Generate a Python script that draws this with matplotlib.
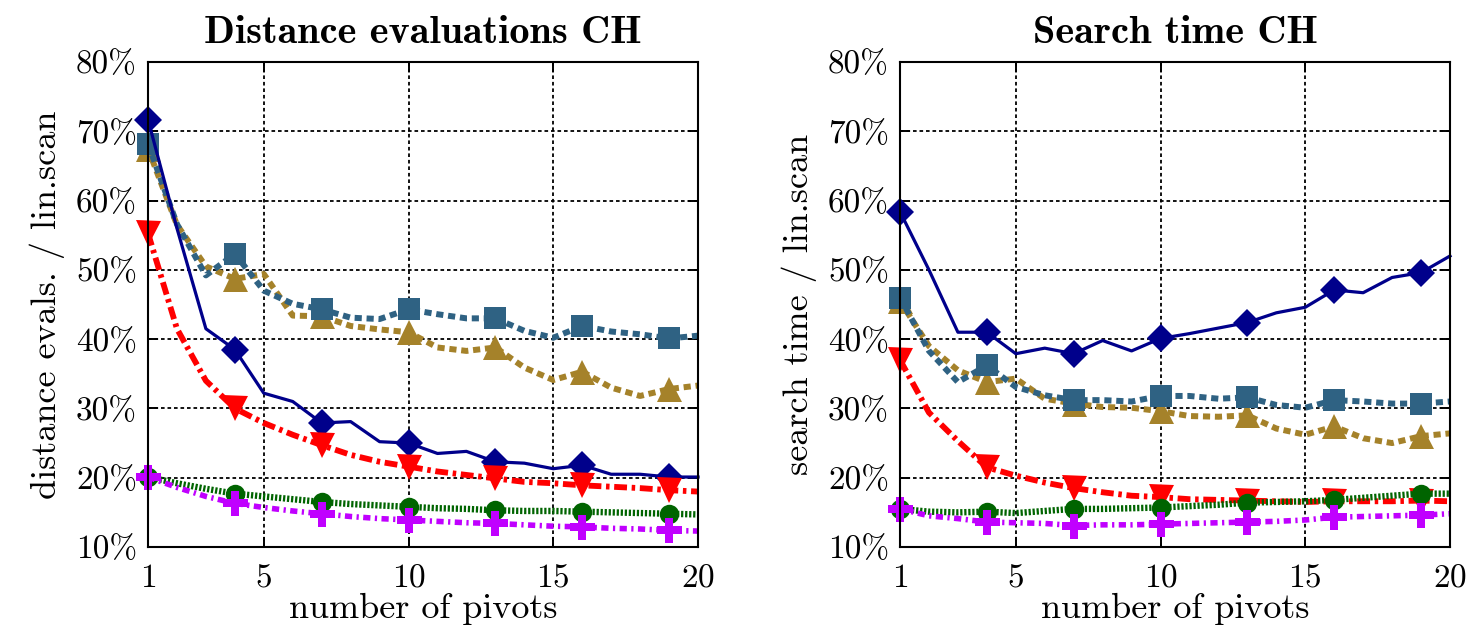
import matplotlib
matplotlib.use('Agg')
import matplotlib.pyplot as plt

# number of pivots, markers on every third point (1, 4, 7, ..., 19)
pivots = list(range(1, 21))

# left panel: distance evaluations / linear scan (%)
dist_navy = [71.7, 56.0, 41.5, 38.5, 32.2, 31.0, 27.9, 28.1, 25.2, 25.0,
             23.5, 23.8, 22.3, 22.1, 21.3, 21.8, 20.5, 20.5, 20.1, 20.1]
dist_steel = [68.2, 56.6, 49.2, 52.3, 47.0, 45.1, 44.3, 43.1, 42.9, 44.3,
              43.6, 43.0, 43.0, 41.2, 40.2, 41.9, 41.1, 40.7, 40.1, 40.5]
dist_gold = [67.5, 56.5, 50.5, 48.7, 49.4, 43.4, 43.3, 41.9, 41.4, 41.0,
             38.8, 38.3, 38.8, 35.9, 34.1, 35.3, 33.0, 31.8, 32.8, 33.3]
dist_red = [55.3, 41.5, 34.0, 30.0, 27.9, 26.2, 24.7, 23.3, 22.3, 21.6,
            20.9, 20.4, 19.9, 19.4, 19.2, 18.9, 18.7, 18.5, 18.2, 18.0]
dist_green = [20.1, 19.2, 18.4, 17.7, 17.3, 16.9, 16.5, 16.2, 16.0, 15.8,
              15.6, 15.5, 15.3, 15.2, 15.2, 15.1, 15.0, 14.9, 14.8, 14.7]
dist_purple = [20.1, 18.6, 17.3, 16.3, 15.7, 15.2, 14.8, 14.4, 14.1, 13.9,
               13.7, 13.5, 13.4, 13.2, 13.0, 12.9, 12.7, 12.6, 12.4, 12.3]

# right panel: search time / linear scan (%)
time_navy = [58.4, 50.0, 41.0, 41.0, 37.9, 38.7, 37.9, 39.8, 38.3, 40.1,
             40.8, 41.6, 42.4, 43.8, 44.6, 47.1, 46.7, 48.9, 49.6, 52.0]
time_steel = [46.0, 38.3, 33.8, 36.2, 33.1, 31.9, 31.2, 31.2, 31.0, 31.8,
              31.8, 31.4, 31.6, 30.5, 30.1, 31.2, 31.0, 30.7, 30.7, 31.0]
time_gold = [45.5, 39.0, 35.5, 33.8, 34.3, 31.4, 30.7, 30.2, 30.1, 29.6,
             28.9, 28.8, 29.0, 27.1, 26.2, 27.4, 25.7, 25.0, 26.0, 26.4]
time_red = [37.0, 29.4, 25.3, 21.5, 20.3, 19.3, 18.5, 17.9, 17.4, 17.2,
            16.9, 16.8, 16.7, 16.6, 16.5, 16.6, 16.6, 16.6, 16.7, 16.6]
time_green = [15.5, 15.1, 15.0, 15.1, 14.9, 15.2, 15.5, 15.5, 15.6, 15.7,
              15.9, 16.1, 16.4, 16.5, 16.6, 16.8, 17.1, 17.4, 17.7, 17.7]
time_purple = [15.5, 14.5, 14.1, 13.6, 13.5, 13.4, 13.1, 13.2, 13.2, 13.3,
               13.4, 13.5, 13.6, 13.7, 13.9, 14.3, 14.4, 14.5, 14.6, 14.8]

x_ticks = [1, 5, 10, 15, 20]
y_ticks = [10, 20, 30, 40, 50, 60, 70, 80]
y_labels = [f'{v}%' for v in y_ticks]

titles = ['Distance evaluations CH', 'Search time CH']
ylabels = ['distance evals. / lin.scan', 'search time / lin.scan']
xlabel = 'number of pivots'

plt.rcParams['font.family'] = ['cmr10', 'DejaVu Serif']
plt.rcParams['axes.formatter.use_mathtext'] = True

# (color, marker, markersize, linewidth, linestyle)
styles = {
    'gold':   ('#a5822a', '^', 18, 4.3, (0, (1.2, 0.8))),
    'steel':  ('#2f6283', 's', 16, 4.3, (0, (1.2, 0.8))),
    'navy':   ('#00008b', 'D', 14, 2.3, '-'),
    'red':    ('#ff0000', 'v', 18, 4.2, (0, (2.2, 0.8, 0.6, 0.8))),
    'green':  ('#006400', 'o', 14, 4.6, (0, (0.35, 0.28))),
    'purple': ('#c000ff', 'P', 18, 4.0, (0, (1.3, 0.8, 0.4, 0.8))),
}

panels = [
    {'gold': dist_gold, 'steel': dist_steel, 'navy': dist_navy,
     'red': dist_red, 'green': dist_green, 'purple': dist_purple},
    {'gold': time_gold, 'steel': time_steel, 'navy': time_navy,
     'red': time_red, 'green': time_green, 'purple': time_purple},
]

fig = plt.figure(figsize=(14.77, 6.35), dpi=100)
lefts = [148 / 1477, 900 / 1477]
for i, series in enumerate(panels):
    ax = fig.add_axes([lefts[i], 88 / 635, 550 / 1477, 485 / 635])
    for name, values in series.items():
        color, marker, ms, lw, ls = styles[name]
        ax.plot(pivots, values, color=color, lw=lw, linestyle=ls,
                marker=marker, ms=ms, markevery=3, markeredgewidth=0,
                clip_on=False, zorder=3)
    ax.set_xlim(1, 20)
    ax.set_ylim(10, 80)
    ax.set_xticks(x_ticks)
    ax.set_yticks(y_ticks)
    ax.set_yticklabels(y_labels)
    ax.tick_params(direction='in', length=7, width=1.4, labelsize=24,
                   top=True, right=True, pad=8)
    ax.tick_params(axis='x', pad=12)
    ax.grid(True, color='black', linestyle=(0, (2, 1.6)), lw=1.3)
    ax.set_axisbelow(True)
    for sp in ax.spines.values():
        sp.set_linewidth(1.5)
        sp.set_zorder(4)
    ax.set_title(titles[i], fontsize=29, family=['cmb10', 'DejaVu Serif'],
                 pad=14)
    ax.set_xlabel(xlabel, fontsize=26, labelpad=0)
    ax.set_ylabel(ylabels[i], fontsize=26, labelpad=8)

fig.savefig('out.png', dpi=100)
